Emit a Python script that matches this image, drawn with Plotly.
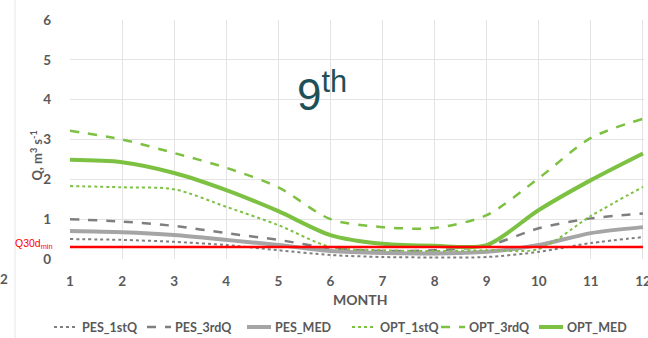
import plotly.graph_objects as go

months = [1, 2, 3, 4, 5, 6, 7, 8, 9, 10, 11, 12]
series_names = ["PES_1stQ", "PES_3rdQ", "PES_MED", "OPT_1stQ", "OPT_3rdQ", "OPT_MED"]
pes_1stq = [0.50, 0.48, 0.43, 0.35, 0.22, 0.10, 0.05, 0.04, 0.05, 0.18, 0.40, 0.55]
pes_3rdq = [1.00, 0.94, 0.83, 0.65, 0.48, 0.27, 0.20, 0.22, 0.33, 0.77, 1.02, 1.14]
pes_med = [0.70, 0.67, 0.60, 0.48, 0.35, 0.20, 0.15, 0.14, 0.18, 0.35, 0.65, 0.80]
opt_1stq = [1.83, 1.80, 1.75, 1.31, 0.85, 0.30, 0.22, 0.20, 0.22, 0.25, 1.08, 1.81]
opt_3rdq = [3.22, 3.00, 2.66, 2.29, 1.80, 1.00, 0.80, 0.78, 1.10, 2.03, 3.04, 3.52]
opt_med = [2.49, 2.43, 2.16, 1.73, 1.20, 0.60, 0.38, 0.33, 0.35, 1.23, 1.98, 2.65]
q30d_min = 0.30
y_ticks = [0, 1, 2, 3, 4, 5, 6]

GREEN = "#7dc142"
GRAY_D = "#7f7f7f"
GRAY_S = "#a5a5a5"
TXT = "#595959"
FONT = "Lato"

# plot-area geometry (px)
L, R, T, B = 70, 4, 20, 79
W, H = 648, 338
PW, PH = W - L - R, H - T - B

def px_x(px):
    return (px - L) / PW

def px_y(py):
    return (H - B - py) / PH

styles = [
    (GRAY_D, "dot", 2),
    (GRAY_D, "dash", 2.5),
    (GRAY_S, "solid", 4),
    (GREEN, "dot", 2),
    (GREEN, "dash", 2.5),
    (GREEN, "solid", 4),
]
values = [pes_1stq, pes_3rdq, pes_med, opt_1stq, opt_3rdq, opt_med]

fig = go.Figure()
for name, vals, (col, dash, w) in zip(series_names, values, styles):
    fig.add_trace(go.Scatter(
        x=months, y=vals, name=name, mode="lines", showlegend=False,
        line=dict(color=col, dash=dash, width=w, shape="spline", smoothing=0.8),
    ))

fig.add_trace(go.Scatter(
    x=months, y=[q30d_min] * len(months), mode="lines",
    line=dict(color="#ff0000", width=2.5), showlegend=False, hoverinfo="skip",
))

fig.update_layout(
    width=W, height=H,
    margin=dict(l=L, r=R, t=T, b=B, autoexpand=False),
    paper_bgcolor="white", plot_bgcolor="white",
    font=dict(family=FONT, color=TXT, size=13),
    showlegend=False,
    xaxis=dict(
        range=[1, 12.02], tickmode="array", tickvals=months,
        showgrid=True, gridcolor="#e3e3e3", gridwidth=1, zeroline=False,
        showline=False, ticks="", ticklabelstandoff=12, ticklabeloverflow="allow",
        tickfont=dict(family=FONT, size=13.5, color=TXT, weight=700),
    ),
    yaxis=dict(
        range=[0, 6], tickmode="array", tickvals=y_ticks,
        showgrid=True, gridcolor="#e3e3e3", gridwidth=1, zeroline=False,
        showline=False, ticks="", ticklabelstandoff=18,
        tickfont=dict(family=FONT, size=13.5, color=TXT, weight=700),
    ),
)

# manual legend (bottom row)
legend_text_x = [80, 173, 273, 378, 467, 565]
legend_y = 327
for name, tx, (col, dash, w) in zip(series_names, legend_text_x, styles):
    fig.add_shape(type="line", xref="paper", yref="paper",
                  x0=px_x(tx - 26), x1=px_x(tx - 2), y0=px_y(legend_y), y1=px_y(legend_y),
                  line=dict(color=col, dash=dash, width=w))
    fig.add_annotation(x=px_x(tx), y=px_y(legend_y), xref="paper", yref="paper",
                       text=name, showarrow=False, xanchor="left", yanchor="middle",
                       font=dict(family=FONT, size=12.5, color=TXT, weight=700))

fig.add_annotation(
    x=5.84, y=4.2, xref="x", yref="y", text="9<sup>th</sup>", showarrow=False,
    font=dict(family="Liberation Sans", size=44, color="#1d5157"),
    xanchor="center", yanchor="middle",
)
fig.add_annotation(
    x=0, y=2.6, xref="paper", yref="y", xshift=-34, text="Q, m<sup>3</sup> s<sup>-1</sup>",
    textangle=-90, showarrow=False, xanchor="center", yanchor="middle",
    font=dict(family=FONT, size=13, color=TXT, weight=700),
)
fig.add_annotation(
    x=6.57, y=0, xref="x", yref="paper", yshift=-40, text="MONTH", showarrow=False,
    xanchor="center", yanchor="middle", font=dict(family=FONT, size=14, color=TXT, weight=700),
)
fig.add_annotation(
    x=0, y=0.38, xref="paper", yref="y", xshift=-15, text="Q30d<sub>min</sub>",
    showarrow=False, xanchor="right", yanchor="middle",
    font=dict(family="Liberation Sans", size=10.5, color="#ff0000"),
)
# fragments of neighbouring panel
fig.add_annotation(
    x=0, y=0, xref="paper", yref="y", xshift=-66, yshift=-20, text="2", showarrow=False,
    xanchor="center", yanchor="middle", font=dict(family=FONT, size=13.5, color=TXT, weight=700),
)
fig.add_shape(type="line", xref="paper", yref="paper",
              x0=px_x(15), x1=px_x(15), y0=px_y(H), y1=px_y(0),
              line=dict(color="#e6e6e6", width=1))

fig.write_html("out.html")
